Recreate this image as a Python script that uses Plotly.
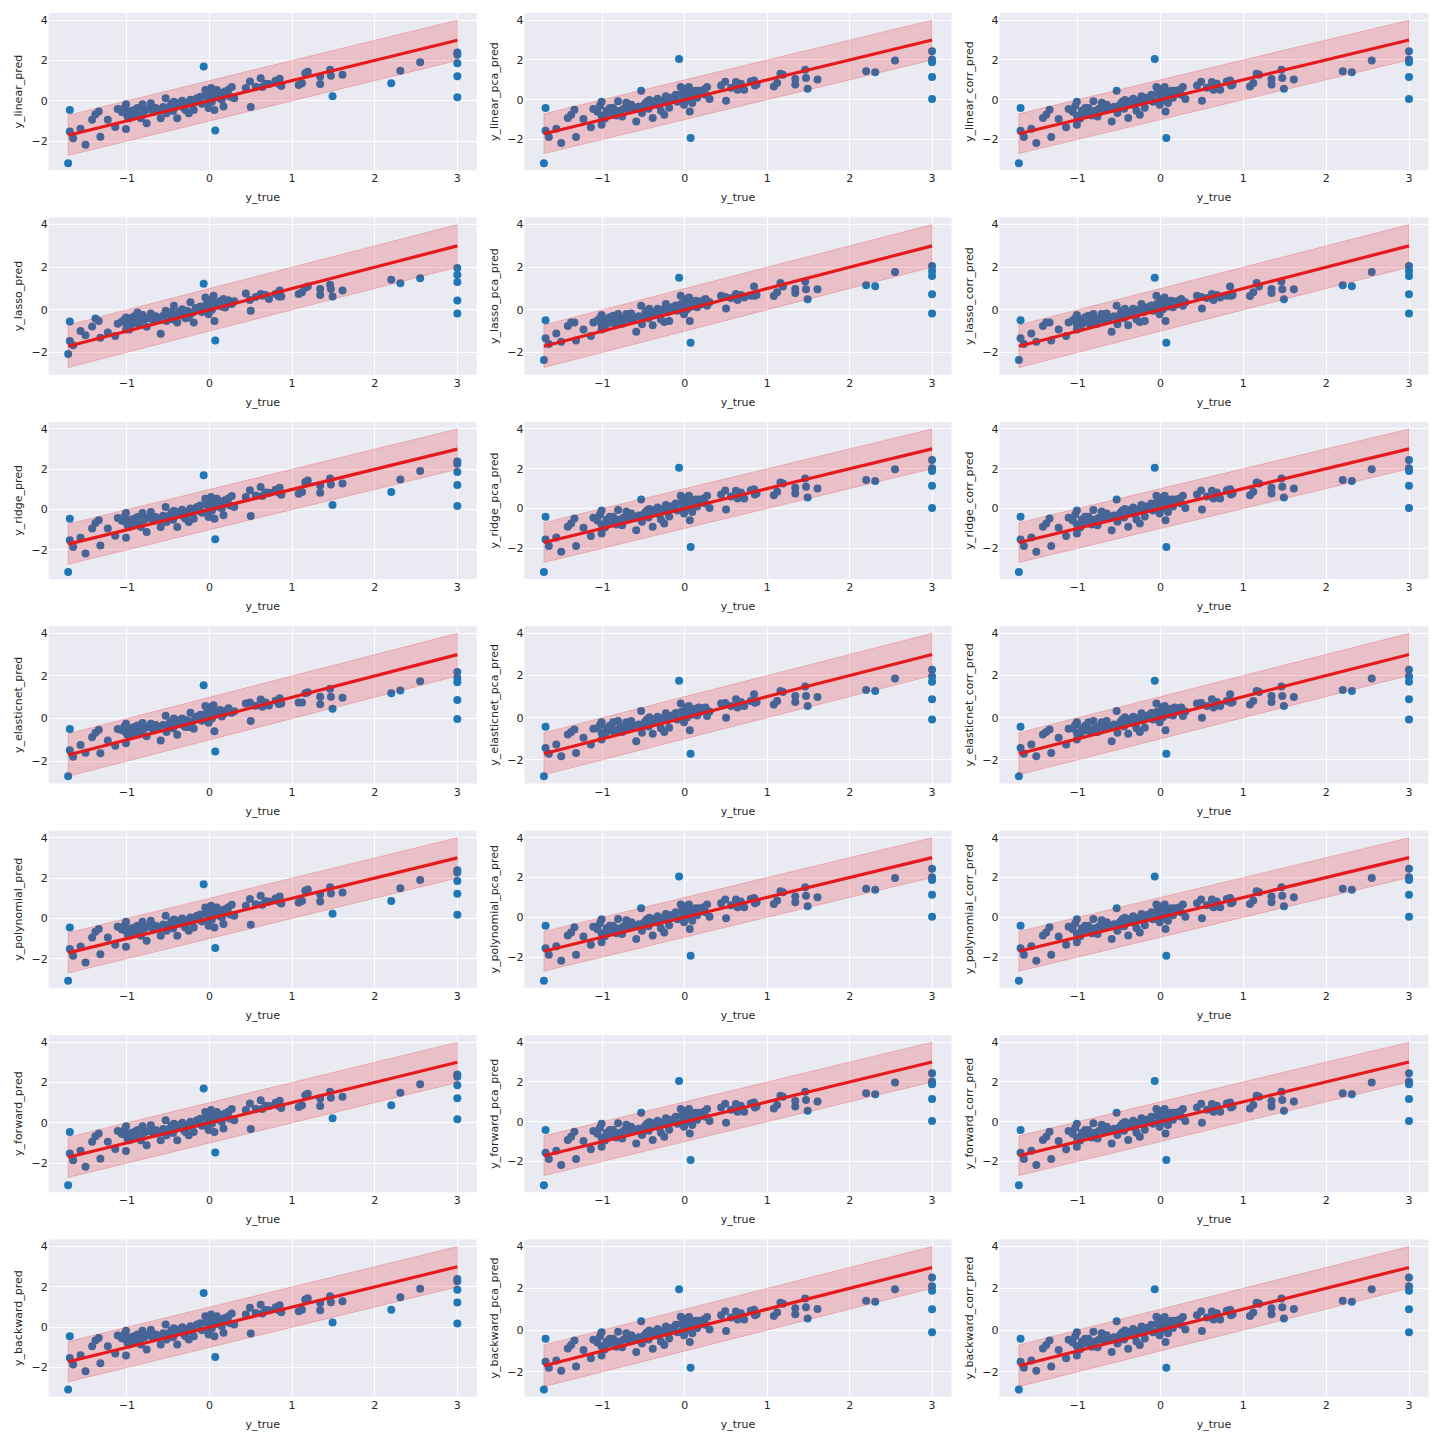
import plotly.graph_objects as go

# ---------------- data ----------------
y_true = [-1.71, -1.69, -1.69, -1.65, -1.56, -1.50, -1.42, -1.38, -1.34, -1.32,
          -1.23, -1.14, -1.11, -1.06, -1.03, -1.01, -1.01, -1.01, -0.99, -0.97,
          -0.95, -0.93, -0.91, -0.89, -0.87, -0.85, -0.83, -0.81, -0.79, -0.76,
          -0.74, -0.71, -0.68, -0.65, -0.62, -0.59, -0.56, -0.53, -0.52, -0.50,
          -0.48, -0.46, -0.44, -0.43, -0.41, -0.39, -0.37, -0.35, -0.33, -0.31,
          -0.29, -0.27, -0.25, -0.23, -0.21, -0.19, -0.17, -0.15, -0.13, -0.11,
          -0.09, -0.07, -0.05, -0.04, -0.03, -0.01, 0.00, 0.01, 0.02, 0.03,
          0.04, 0.05, 0.06, 0.07, 0.08, 0.09, 0.11, 0.13, 0.15, 0.17,
          0.19, 0.21, 0.23, 0.25, 0.27, 0.30, 0.44, 0.49, 0.50, 0.56,
          0.62, 0.64, 0.68, 0.72, 0.80, 0.84, 0.85, 0.87, 1.08, 1.12,
          1.16, 1.19, 1.34, 1.34, 1.46, 1.47, 1.49, 1.61, 2.20, 2.31,
          2.55, 3.00, 3.00, 3.00, 3.00, 3.00]

y_linear_pred = [-3.09, -0.45, -1.52, -1.85, -1.39, -2.18, -0.94, -0.66, -0.53, -1.78,
                 -0.94, -1.30, -0.41, -0.55, -0.35, -0.17, -0.61, -1.40, -0.80, -0.86,
                 -0.50, -0.70, -0.45, -0.60, -0.36, -0.75, -0.86, -0.17, -0.50, -1.11,
                 -0.40, -0.12, -0.55, -0.36, -0.45, -0.86, -0.30, 0.13, -0.61, -0.40,
                 -0.28, -0.15, -0.50, -0.05, -0.30, -0.86, -0.12, -0.20, 0.00, -0.35,
                 -0.45, -0.10, -0.61, 0.05, -0.20, -0.45, 0.05, 0.13, -0.05, 0.20,
                 -0.15, 1.70, 0.54, 0.25, -0.12, -0.36, 0.10, 0.35, 0.63, -0.05,
                 0.45, 0.21, -0.45, -1.47, 0.30, 0.54, 0.15, 0.40, 0.05, -0.28,
                 0.46, 0.30, 0.55, 0.20, 0.68, 0.13, 0.63, 0.96, -0.31, 0.70,
                 1.12, 0.68, 0.85, 0.84, 0.99, 0.84, 1.09, 0.74, 0.79, 0.87,
                 1.37, 1.44, 1.20, 0.84, 1.54, 1.24, 0.23, 1.29, 0.87, 1.49,
                 1.91, 2.39, 2.28, 1.86, 1.22, 0.18]

y_linear_pca_pred = [-3.19, -0.42, -1.56, -1.88, -1.46, -2.18, -0.92, -0.76, -0.50, -1.88,
                     -0.97, -1.38, -0.47, -0.60, -0.30, -0.10, -0.81, -1.26, -0.85, -0.95,
                     -0.55, -0.65, -0.42, -0.55, -0.42, -0.70, -0.80, -0.08, -0.55, -0.84,
                     -0.45, -0.15, -0.50, -0.25, -0.40, -1.09, -0.35, 0.45, -0.67, -0.30,
                     -0.20, -0.10, -0.45, -0.02, -0.25, -0.92, -0.08, -0.15, 0.05, -0.30,
                     -0.55, -0.05, -0.76, 0.17, -0.15, -0.40, 0.10, 0.10, 0.00, 0.25,
                     -0.10, 2.05, 0.64, 0.30, -0.05, -0.25, 0.15, 0.40, 0.55, 0.00,
                     0.50, 0.64, -0.59, -1.93, 0.25, -0.17, 0.35, 0.45, 0.10, 0.45,
                     0.30, 0.35, 0.50, 0.25, 0.64, 0.03, 0.71, 0.90, -0.05, 0.60,
                     0.89, 0.50, 0.80, 0.50, 0.92, 0.97, 0.71, 0.76, 0.67, 0.84,
                     1.31, 1.26, 1.04, 0.76, 1.51, 1.09, 0.55, 1.01, 1.43, 1.38,
                     1.97, 2.44, 2.02, 1.88, 1.14, 0.03]

y_backward_pca_pred = [-2.85, -0.42, -1.52, -1.80, -1.46, -1.95, -0.88, -0.72, -0.50, -1.75,
                       -0.95, -1.35, -0.47, -0.60, -0.30, -0.10, -0.78, -1.22, -0.85, -0.92,
                       -0.55, -0.65, -0.42, -0.55, -0.42, -0.70, -0.80, -0.08, -0.55, -0.82,
                       -0.45, -0.15, -0.50, -0.25, -0.40, -1.05, -0.35, 0.42, -0.65, -0.30,
                       -0.20, -0.10, -0.45, -0.02, -0.25, -0.90, -0.08, -0.15, 0.05, -0.30,
                       -0.55, -0.05, -0.72, 0.17, -0.15, -0.40, 0.10, 0.10, 0.00, 0.25,
                       -0.10, 1.95, 0.64, 0.30, -0.05, -0.25, 0.15, 0.40, 0.55, 0.00,
                       0.50, 0.62, -0.57, -1.80, 0.25, -0.15, 0.35, 0.45, 0.10, 0.45,
                       0.30, 0.35, 0.50, 0.25, 0.62, 0.03, 0.71, 0.90, -0.05, 0.60,
                       0.89, 0.50, 0.80, 0.50, 0.92, 0.97, 0.71, 0.76, 0.67, 0.84,
                       1.31, 1.26, 1.04, 0.76, 1.51, 1.09, 0.55, 1.01, 1.40, 1.36,
                       1.95, 2.52, 2.10, 1.88, 1.00, -0.10]

y_lasso_pred = [-2.07, -0.55, -1.47, -1.66, -1.00, -1.20, -0.78, -0.41, -0.52, -1.31,
                -1.07, -1.23, -0.65, -0.55, -0.45, -0.36, -0.62, -0.92, -0.75, -0.92,
                -0.40, -0.65, -0.30, -0.55, -0.13, -0.68, -0.49, -0.25, -0.45, -0.79,
                -0.38, -0.17, -0.50, -0.30, -0.42, -1.12, -0.28, -0.05, -0.52, -0.35,
                -0.20, -0.10, -0.45, 0.19, -0.25, -0.60, -0.10, -0.15, 0.02, -0.30,
                -0.40, -0.05, -0.36, 0.35, -0.15, -0.60, 0.05, 0.10, 0.00, 0.15,
                -0.10, 1.22, 0.58, 0.25, -0.08, -0.21, 0.10, 0.35, 0.45, 0.00,
                0.40, 0.66, -0.52, -1.44, 0.30, 0.20, 0.25, 0.40, 0.15, 0.51,
                0.11, 0.35, 0.45, 0.30, 0.27, 0.40, 0.77, 0.46, -0.05, 0.60,
                0.74, 0.66, 0.70, 0.51, 0.74, 0.62, 0.90, 0.62, 0.74, 0.82,
                1.03, 1.09, 0.98, 0.70, 1.17, 0.98, 0.62, 0.90, 1.41, 1.25,
                1.48, 1.96, 1.64, 1.30, 0.44, -0.17]

y_lasso_pca_pred = [-2.35, -0.49, -1.34, -1.60, -1.11, -1.50, -0.76, -0.60, -0.60, -1.44,
                    -0.92, -1.23, -0.60, -0.50, -0.40, -0.24, -0.70, -0.92, -0.80, -0.85,
                    -0.45, -0.62, -0.35, -0.50, -0.28, -0.65, -0.55, -0.20, -0.48, -0.65,
                    -0.40, -0.20, -0.45, -0.17, -0.38, -1.03, -0.30, 0.19, -0.68, -0.30,
                    -0.15, -0.05, -0.40, 0.05, -0.22, -0.73, -0.21, -0.10, 0.05, -0.28,
                    -0.45, 0.00, -0.57, 0.27, -0.12, -0.52, 0.10, 0.12, 0.02, 0.20,
                    -0.05, 1.50, 0.66, 0.28, -0.05, -0.21, 0.15, 0.40, 0.50, 0.02,
                    0.45, 0.58, -0.52, -1.55, 0.25, 0.15, 0.30, 0.42, 0.12, 0.39,
                    0.25, 0.35, 0.45, 0.51, 0.19, 0.35, 0.66, 0.60, 0.06, 0.55,
                    0.74, 0.46, 0.70, 0.58, 0.66, 1.09, 0.66, 0.70, 0.65, 0.82,
                    1.26, 1.09, 0.98, 0.79, 1.33, 0.96, 0.49, 0.96, 1.15, 1.11,
                    1.77, 2.05, 1.82, 1.58, 0.73, -0.17]

y_elasticnet_pred = [-2.70, -0.49, -1.48, -1.79, -1.24, -1.60, -0.87, -0.67, -0.52, -1.63,
                     -1.03, -1.27, -0.49, -0.55, -0.38, -0.24, -0.65, -1.16, -0.78, -0.68,
                     -0.45, -0.70, -0.40, -0.55, -0.32, -0.72, -0.60, -0.21, -0.45, -0.83,
                     -0.40, -0.24, -0.52, -0.30, -0.40, -1.03, -0.30, 0.13, -0.63, -0.35,
                     -0.20, -0.12, -0.45, 0.00, -0.28, -0.76, -0.08, -0.15, 0.00, -0.32,
                     -0.40, -0.08, -0.40, 0.27, -0.15, -0.48, 0.05, 0.10, -0.02, 0.18,
                     -0.10, 1.56, 0.59, 0.25, -0.08, -0.19, 0.10, 0.35, 0.55, 0.00,
                     0.42, 0.63, -0.59, -1.54, 0.28, 0.20, 0.25, 0.40, 0.10, 0.21,
                     0.35, 0.30, 0.48, 0.30, 0.27, 0.35, 0.71, 0.75, -0.11, 0.60,
                     0.90, 0.56, 0.75, 0.62, 0.84, 0.68, 0.95, 0.71, 0.76, 0.76,
                     1.19, 1.24, 1.03, 0.67, 1.40, 1.03, 0.46, 0.98, 1.19, 1.32,
                     1.75, 2.19, 1.90, 1.70, 0.87, -0.02]

y_elasticnet_pca_pred = [-2.78, -0.43, -1.43, -1.71, -1.27, -1.83, -0.79, -0.68, -0.56, -1.67,
                         -0.95, -1.27, -0.52, -0.50, -0.35, -0.21, -0.72, -1.03, -0.82, -0.78,
                         -0.48, -0.62, -0.38, -0.52, -0.21, -0.68, -0.58, -0.16, -0.50, -0.68,
                         -0.42, -0.22, -0.48, -0.16, -0.40, -1.11, -0.32, 0.32, -0.71, -0.30,
                         -0.18, -0.08, -0.42, 0.02, -0.25, -0.76, -0.08, -0.12, 0.04, -0.30,
                         -0.50, -0.03, -0.68, 0.21, -0.12, -0.48, 0.08, 0.10, 0.00, 0.22,
                         -0.08, 1.75, 0.67, 0.28, -0.05, -0.21, 0.12, 0.38, 0.50, 0.02,
                         0.45, 0.56, -0.59, -1.71, 0.25, 0.15, 0.30, 0.42, 0.10, 0.48,
                         0.30, 0.35, 0.45, 0.48, 0.08, 0.30, 0.67, 0.70, 0.00, 0.55,
                         0.87, 0.48, 0.75, 0.56, 0.79, 1.11, 0.71, 0.75, 0.63, 0.79,
                         1.27, 1.22, 1.03, 0.75, 1.48, 1.03, 0.56, 0.98, 1.32, 1.27,
                         1.86, 2.27, 1.95, 1.70, 0.87, -0.08]

# models whose panels look identical to the ones above
y_ridge_pred = y_linear_pred
y_polynomial_pred = y_linear_pred
y_forward_pred = y_linear_pred
y_backward_pred = y_linear_pred
y_pca_like_pred = y_linear_pca_pred

panel_names = [
    ["y_linear_pred", "y_linear_pca_pred", "y_linear_corr_pred"],
    ["y_lasso_pred", "y_lasso_pca_pred", "y_lasso_corr_pred"],
    ["y_ridge_pred", "y_ridge_pca_pred", "y_ridge_corr_pred"],
    ["y_elasticnet_pred", "y_elasticnet_pca_pred", "y_elasticnet_corr_pred"],
    ["y_polynomial_pred", "y_polynomial_pca_pred", "y_polynomial_corr_pred"],
    ["y_forward_pred", "y_forward_pca_pred", "y_forward_corr_pred"],
    ["y_backward_pred", "y_backward_pca_pred", "y_backward_corr_pred"],
]
panel_data = [
    [y_linear_pred, y_linear_pca_pred, y_linear_pca_pred],
    [y_lasso_pred, y_lasso_pca_pred, y_lasso_pca_pred],
    [y_ridge_pred, y_pca_like_pred, y_pca_like_pred],
    [y_elasticnet_pred, y_elasticnet_pca_pred, y_elasticnet_pca_pred],
    [y_polynomial_pred, y_pca_like_pred, y_pca_like_pred],
    [y_forward_pred, y_pca_like_pred, y_pca_like_pred],
    [y_backward_pred, y_backward_pca_pred, y_backward_pca_pred],
]

# ---------------- styling ----------------
W = H = 1440
BG = "#eaeaf2"
TXT = "#262626"
PT = "#1f77b4"
RED = "rgb(228,26,28)"
BAND = "rgba(228,26,28,0.20)"
BAND_EDGE = "rgba(228,26,28,0.22)"
FONT = "DejaVu Sans"

col_px = [(48.7, 476.8), (524.5, 951.5), (999.4, 1428.5)]
row_top0, row_pitch, row_h = 13.0, 204.4, 157.3

fig = go.Figure()
lo, hi = min(y_true), max(y_true)
xr = hi - lo
x_range = [lo - 0.05 * xr, hi + 0.05 * xr]

layout = dict(width=W, height=H, margin=dict(l=0, r=0, t=0, b=0),
              paper_bgcolor="white", plot_bgcolor=BG, showlegend=False,
              font=dict(family=FONT, size=11, color=TXT))

k = 0
for r in range(7):
    top = row_top0 + r * row_pitch
    for c in range(3):
        k += 1
        xa = "x" if k == 1 else f"x{k}"
        ya = "y" if k == 1 else f"y{k}"
        pred = panel_data[r][c]
        # scatter
        fig.add_trace(go.Scatter(x=y_true, y=pred, mode="markers",
                                 marker=dict(color=PT, size=8, line=dict(width=0)),
                                 xaxis=xa, yaxis=ya, hoverinfo="skip"))
        # band y = x +/- 1
        fig.add_trace(go.Scatter(x=[lo, hi, hi, lo, lo],
                                 y=[lo - 1, hi - 1, hi + 1, lo + 1, lo - 1],
                                 mode="lines", fill="toself", fillcolor=BAND,
                                 line=dict(color=BAND_EDGE, width=1),
                                 xaxis=xa, yaxis=ya, hoverinfo="skip"))
        # identity line
        fig.add_trace(go.Scatter(x=[lo, hi], y=[lo, hi], mode="lines",
                                 line=dict(color=RED, width=3.2),
                                 xaxis=xa, yaxis=ya, hoverinfo="skip"))
        ymin = min(min(pred), lo - 1)
        ymax = max(max(pred), hi + 1)
        yr = ymax - ymin
        x0, x1 = col_px[c]
        axis_common = dict(showgrid=True, gridcolor="white", gridwidth=1.3,
                           zeroline=False, showline=False, ticks="",
                           tickfont=dict(family=FONT, size=11, color=TXT))
        layout["xaxis" if k == 1 else f"xaxis{k}"] = dict(
            domain=[x0 / W, x1 / W], anchor=ya, range=x_range, dtick=1, tick0=0,
            title=dict(text="y_true", font=dict(family=FONT, size=11, color=TXT), standoff=9),
            **axis_common)
        layout["yaxis" if k == 1 else f"yaxis{k}"] = dict(
            domain=[1 - (top + row_h) / H, 1 - top / H], anchor=xa,
            range=[ymin - 0.05 * yr, ymax + 0.05 * yr], dtick=2, tick0=0,
            title=dict(text=panel_names[r][c], font=dict(family=FONT, size=11, color=TXT), standoff=6),
            **axis_common)

fig.update_layout(**layout)
fig.write_html("out.html")
